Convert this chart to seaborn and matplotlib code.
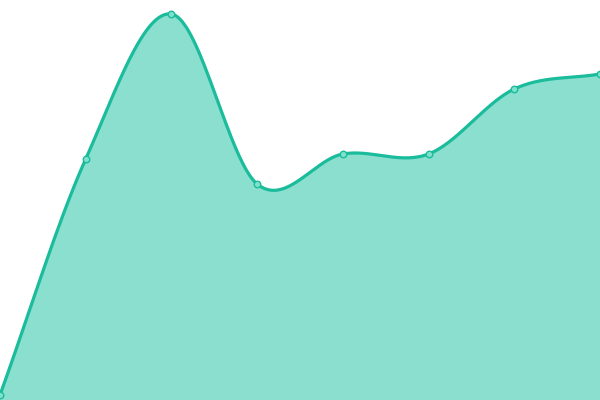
import numpy as np
import pandas as pd
import matplotlib
matplotlib.use("Agg")
import matplotlib.pyplot as plt
import seaborn as sns

# Data
x_index = [0, 1, 2, 3, 4, 5, 6, 7]
values = [5, 241, 386, 216, 246, 246, 311, 326]

LINE = "#1abc9c"
FILL = "#8adfcf"


def catmull_rom(x, y, per=80):
    x = np.asarray(x, float)
    y = np.asarray(y, float)
    k = len(x)
    m = np.empty(k)
    m[0] = (y[1] - y[0]) / (x[1] - x[0])
    m[-1] = (y[-1] - y[-2]) / (x[-1] - x[-2])
    for i in range(1, k - 1):
        m[i] = (y[i + 1] - y[i - 1]) / (x[i + 1] - x[i - 1])
    xs_all, ys_all = [], []
    for i in range(k - 1):
        h = x[i + 1] - x[i]
        t = np.linspace(0, 1, per, endpoint=(i == k - 2))
        h00 = 2 * t**3 - 3 * t**2 + 1
        h10 = t**3 - 2 * t**2 + t
        h01 = -2 * t**3 + 3 * t**2
        h11 = t**3 - t**2
        xs_all.append(x[i] + t * h)
        ys_all.append(h00 * y[i] + h10 * h * m[i] + h01 * y[i + 1] + h11 * h * m[i + 1])
    return np.concatenate(xs_all), np.concatenate(ys_all)


sns.set_theme(style="white")
fig = plt.figure(figsize=(6, 4), dpi=100)
ax = fig.add_axes([0, 0, 1, 1])

xs, ys = catmull_rom(x_index, values)
smooth = pd.DataFrame({"x": xs, "y": ys})
pts = pd.DataFrame({"x": x_index, "y": values})

ax.fill_between(smooth["x"], smooth["y"], 0, color=FILL, linewidth=0, zorder=1)
sns.lineplot(data=smooth, x="x", y="y", ax=ax, color=LINE, linewidth=2.3, zorder=2)
sns.scatterplot(data=pts, x="x", y="y", ax=ax, s=22, color="#7fe0cc",
                edgecolor=LINE, linewidth=1.0, zorder=3)

ax.set_xlim(0, 7)
ax.set_ylim(0, 400)
ax.axis("off")

fig.savefig("out.png", dpi=100)
